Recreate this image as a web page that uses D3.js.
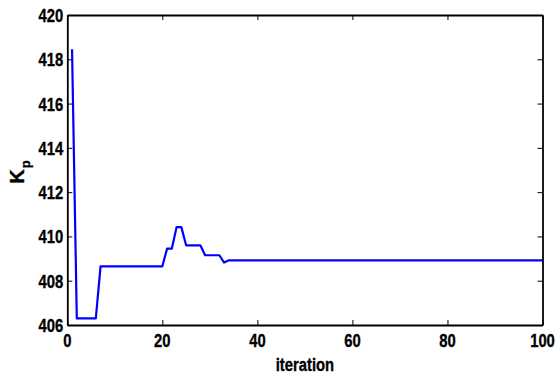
<!DOCTYPE html>
<html>
<head>
<meta charset="utf-8">
<script src="https://cdn.jsdelivr.net/npm/d3@7"></script>
<style>
  html, body { margin: 0; padding: 0; background: #fff; }
  svg { display: block; }
  text { font-family: "Liberation Sans", Arial, sans-serif; font-weight: bold; fill: #000; stroke: #000; stroke-width: 0.35; }
</style>
</head>
<body>
<svg id="chart" width="557" height="379"></svg>
<script>
// Data
const iterations = [
  1,2,3,4,5,6,7,8,9,10,11,12,13,14,15,16,17,18,19,20,
  21,22,23,24,25,26,27,28,29,30,31,32,33,34,35,36,37,38,39,40,
  41,42,43,44,45,46,47,48,49,50,51,52,53,54,55,56,57,58,59,60,
  61,62,63,64,65,66,67,68,69,70,71,72,73,74,75,76,77,78,79,80,
  81,82,83,84,85,86,87,88,89,90,91,92,93,94,95,96,97,98,99,100
];
const kpValues = [
  418.45,406.3,406.3,406.3,406.3,406.3,408.65,408.65,408.65,408.65,
  408.65,408.65,408.65,408.65,408.65,408.65,408.65,408.65,408.65,408.65,
  409.45,409.45,410.42,410.42,409.6,409.6,409.6,409.6,409.15,409.15,
  409.15,409.15,408.82,408.92,408.92,408.92,408.92,408.92,408.92,408.92,
  408.92,408.92,408.92,408.92,408.92,408.92,408.92,408.92,408.92,408.92,
  408.92,408.92,408.92,408.92,408.92,408.92,408.92,408.92,408.92,408.92,
  408.92,408.92,408.92,408.92,408.92,408.92,408.92,408.92,408.92,408.92,
  408.92,408.92,408.92,408.92,408.92,408.92,408.92,408.92,408.92,408.92,
  408.92,408.92,408.92,408.92,408.92,408.92,408.92,408.92,408.92,408.92,
  408.92,408.92,408.92,408.92,408.92,408.92,408.92,408.92,408.92,408.92
];
const xTicks = [0, 20, 40, 60, 80, 100];
const yTicks = [406, 408, 410, 412, 414, 416, 418, 420];
const xDomain = [0, 100];
const yDomain = [406, 420];
const xLabel = "iteration";
const yLabelMain = "K";
const yLabelSub = "p";

const svg = d3.select("#chart");
const L = 67.3, R = 542.5, T = 15, B = 325;
const x = d3.scaleLinear().domain(xDomain).range([L, R]);
const y = d3.scaleLinear().domain(yDomain).range([B, T]);
const tickLen = 5;
const fs = 19, sx = 0.78;

// line
const data = iterations.map((it, i) => [it, kpValues[i]]);
svg.append("path")
  .datum(data)
  .attr("fill", "none")
  .attr("stroke", "#0000ff")
  .attr("stroke-width", 2.2)
  .attr("stroke-linejoin", "round")
  .attr("d", d3.line().x(d => x(d[0])).y(d => y(d[1])));

// axes (inward ticks, MATLAB box)
const axB = svg.append("g").attr("transform", `translate(0,${B})`)
  .call(d3.axisBottom(x).tickValues(xTicks).tickSizeInner(-tickLen).tickSizeOuter(0).tickFormat(""));
const axT = svg.append("g").attr("transform", `translate(0,${T})`)
  .call(d3.axisTop(x).tickValues(xTicks).tickSizeInner(-tickLen).tickSizeOuter(0).tickFormat(""));
const axL = svg.append("g").attr("transform", `translate(${L},0)`)
  .call(d3.axisLeft(y).tickValues(yTicks).tickSizeInner(-tickLen).tickSizeOuter(0).tickFormat(""));
const axR = svg.append("g").attr("transform", `translate(${R},0)`)
  .call(d3.axisRight(y).tickValues(yTicks).tickSizeInner(-tickLen).tickSizeOuter(0).tickFormat(""));
[axB, axT, axL, axR].forEach(g => {
  g.selectAll("path.domain").attr("stroke", "#000").attr("stroke-width", 1.8);
  g.selectAll(".tick line").attr("stroke", "#000").attr("stroke-width", 1);
});

// tick labels
xTicks.forEach(v => {
  svg.append("text")
    .attr("transform", `translate(${x(v)},${B + 22}) scale(${sx},1)`)
    .attr("text-anchor", "middle")
    .attr("font-size", fs)
    .text(v);
});
yTicks.forEach(v => {
  svg.append("text")
    .attr("transform", `translate(${L - 4},${y(v) + 7}) scale(${sx},1)`)
    .attr("text-anchor", "end")
    .attr("font-size", fs)
    .text(v);
});

// axis titles
svg.append("text")
  .attr("transform", `translate(${(L + R) / 2},${B + 46}) scale(${sx},1)`)
  .attr("text-anchor", "middle")
  .attr("font-size", fs)
  .text(xLabel);

const yl = svg.append("text")
  .attr("transform", `translate(24,${(T + B) / 2 + 2}) rotate(-90)`)
  .attr("text-anchor", "middle")
  .attr("font-size", 20);
yl.append("tspan").text(yLabelMain);
yl.append("tspan").attr("font-size", 13).attr("dy", 6).attr("dx", 1).text(yLabelSub);
</script>
</body>
</html>
